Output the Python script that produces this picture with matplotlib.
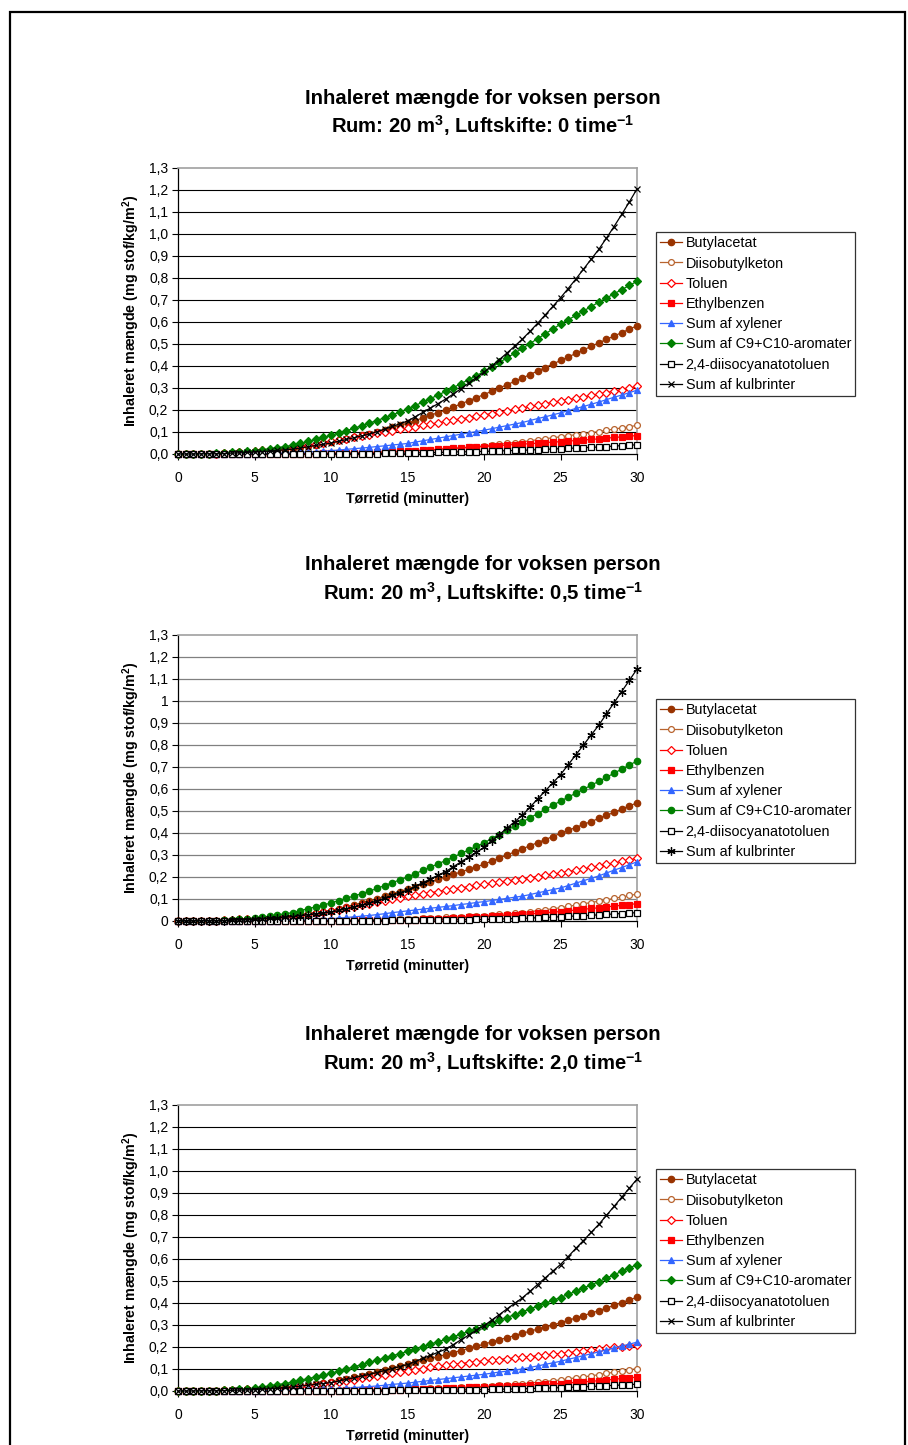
import matplotlib
matplotlib.use("Agg")
import matplotlib.pyplot as plt
from matplotlib.patches import Rectangle

plt.rcParams['font.family'] = ['Liberation Sans', 'DejaVu Sans']
plt.rcParams['mathtext.fontset'] = 'custom'
plt.rcParams['mathtext.rm'] = 'Liberation Sans'
plt.rcParams['mathtext.bf'] = 'Liberation Sans:bold'

# drying time in minutes, one sample every half minute
minutes = [i * 0.5 for i in range(61)]

series_names = ['Butylacetat', 'Diisobutylketon', 'Toluen', 'Ethylbenzen', 'Sum af xylener',
                'Sum af C9+C10-aromater', '2,4-diisocyanatotoluen', 'Sum af kulbrinter']

#-------------------------------------------------------------------------
# Air change 0 per hour
butylacetat_0 = [0, 0, 0.001, 0.001, 0.002, 0.002, 0.004, 0.005, 0.007, 0.008,
                 0.010, 0.013, 0.016, 0.020, 0.023, 0.026, 0.032, 0.038, 0.043, 0.049,
                 0.055, 0.062, 0.070, 0.077, 0.085, 0.092, 0.102, 0.111, 0.121, 0.130,
                 0.140, 0.152, 0.164, 0.176, 0.188, 0.200, 0.214, 0.228, 0.242, 0.256,
                 0.270, 0.285, 0.300, 0.315, 0.330, 0.345, 0.361, 0.377, 0.393, 0.409,
                 0.425, 0.441, 0.457, 0.473, 0.489, 0.505, 0.521, 0.536, 0.552, 0.567, 0.583]
diisobutylketon_0 = [0, 0, 0, 0, 0, 0, 0, 0, 0, 0,
                     0, 0, 0, 0.001, 0.001, 0.001, 0.001, 0.002, 0.002, 0.003,
                     0.003, 0.004, 0.005, 0.005, 0.006, 0.007, 0.008, 0.009, 0.011, 0.012,
                     0.013, 0.015, 0.017, 0.019, 0.021, 0.023, 0.026, 0.029, 0.031, 0.034,
                     0.037, 0.041, 0.045, 0.048, 0.052, 0.056, 0.060, 0.065, 0.069, 0.074,
                     0.078, 0.083, 0.088, 0.092, 0.097, 0.102, 0.108, 0.113, 0.119, 0.124, 0.130]
toluen_0 = [0, 0, 0.001, 0.001, 0.002, 0.002, 0.004, 0.006, 0.008, 0.010,
            0.012, 0.016, 0.019, 0.023, 0.026, 0.030, 0.035, 0.041, 0.046, 0.052,
            0.057, 0.063, 0.069, 0.076, 0.082, 0.088, 0.094, 0.100, 0.106, 0.112,
            0.118, 0.124, 0.130, 0.136, 0.142, 0.148, 0.154, 0.160, 0.165, 0.171,
            0.177, 0.184, 0.190, 0.197, 0.203, 0.210, 0.216, 0.222, 0.229, 0.235,
            0.241, 0.247, 0.253, 0.260, 0.266, 0.272, 0.279, 0.286, 0.293, 0.300, 0.307]
ethylbenzen_0 = [0, 0, 0, 0, 0, 0, 0, 0, 0, 0,
                 0, 0, 0, 0.001, 0.001, 0.001, 0.001, 0.002, 0.002, 0.003,
                 0.003, 0.004, 0.004, 0.005, 0.005, 0.006, 0.007, 0.009, 0.010, 0.012,
                 0.013, 0.015, 0.017, 0.019, 0.021, 0.023, 0.025, 0.027, 0.030, 0.032,
                 0.034, 0.036, 0.038, 0.041, 0.043, 0.045, 0.047, 0.049, 0.052, 0.054,
                 0.056, 0.059, 0.061, 0.064, 0.066, 0.069, 0.072, 0.075, 0.078, 0.081, 0.084]
xylener_0 = [0, 0, 0, 0, 0, 0, 0, 0, 0.001, 0.001,
             0.001, 0.002, 0.003, 0.003, 0.004, 0.005, 0.007, 0.009, 0.011, 0.013,
             0.015, 0.018, 0.021, 0.024, 0.027, 0.030, 0.034, 0.037, 0.041, 0.044,
             0.048, 0.054, 0.060, 0.066, 0.072, 0.078, 0.084, 0.090, 0.096, 0.102,
             0.108, 0.115, 0.122, 0.129, 0.136, 0.143, 0.152, 0.161, 0.169, 0.178,
             0.187, 0.197, 0.207, 0.216, 0.226, 0.236, 0.247, 0.258, 0.268, 0.279, 0.290]
c9c10_0 = [0, 0, 0.001, 0.001, 0.002, 0.003, 0.005, 0.007, 0.010, 0.012,
           0.015, 0.019, 0.024, 0.029, 0.034, 0.040, 0.048, 0.057, 0.066, 0.075,
           0.085, 0.095, 0.106, 0.117, 0.128, 0.140, 0.152, 0.165, 0.178, 0.191,
           0.205, 0.220, 0.236, 0.252, 0.268, 0.285, 0.302, 0.320, 0.338, 0.356,
           0.375, 0.395, 0.416, 0.437, 0.458, 0.480, 0.502, 0.524, 0.546, 0.568,
           0.590, 0.610, 0.630, 0.650, 0.670, 0.690, 0.709, 0.728, 0.747, 0.766, 0.785]
tdi_0 = [0, 0, 0, 0, 0, 0, 0, 0, 0, 0,
         0, 0, 0, 0, 0, 0, 0, 0, 0.001, 0.001,
         0.001, 0.001, 0.001, 0.002, 0.002, 0.002, 0.002, 0.003, 0.003, 0.004,
         0.004, 0.005, 0.006, 0.006, 0.007, 0.008, 0.009, 0.010, 0.010, 0.011,
         0.012, 0.013, 0.014, 0.015, 0.016, 0.017, 0.018, 0.020, 0.021, 0.023,
         0.024, 0.026, 0.027, 0.029, 0.030, 0.032, 0.034, 0.036, 0.038, 0.040, 0.042]
kulbrinter_0 = [0, 0, 0, 0.001, 0.001, 0.001, 0.002, 0.004, 0.005, 0.007,
                0.009, 0.011, 0.014, 0.016, 0.019, 0.022, 0.027, 0.033, 0.039, 0.044,
                0.050, 0.058, 0.066, 0.074, 0.082, 0.090, 0.101, 0.113, 0.125, 0.137,
                0.150, 0.169, 0.189, 0.209, 0.229, 0.250, 0.273, 0.297, 0.322, 0.347,
                0.372, 0.400, 0.429, 0.459, 0.490, 0.522, 0.557, 0.594, 0.632, 0.671,
                0.710, 0.752, 0.795, 0.840, 0.885, 0.930, 0.981, 1.034, 1.089, 1.146, 1.205]

#-------------------------------------------------------------------------
# Air change 0,5 per hour
butylacetat_05 = [0, 0, 0.001, 0.001, 0.002, 0.002, 0.003, 0.005, 0.006, 0.008,
                  0.009, 0.012, 0.014, 0.017, 0.019, 0.022, 0.027, 0.032, 0.037, 0.042,
                  0.047, 0.056, 0.064, 0.073, 0.081, 0.090, 0.101, 0.112, 0.123, 0.134,
                  0.145, 0.156, 0.167, 0.178, 0.189, 0.200, 0.212, 0.223, 0.235, 0.246,
                  0.258, 0.272, 0.286, 0.300, 0.314, 0.328, 0.342, 0.356, 0.370, 0.384,
                  0.398, 0.412, 0.425, 0.439, 0.452, 0.466, 0.480, 0.494, 0.509, 0.523, 0.537]
diisobutylketon_05 = [0, 0, 0, 0, 0, 0, 0, 0, 0, 0,
                      0, 0, 0, 0.001, 0.001, 0.001, 0.001, 0.002, 0.002, 0.003,
                      0.003, 0.004, 0.004, 0.005, 0.005, 0.006, 0.007, 0.008, 0.008, 0.009,
                      0.010, 0.011, 0.012, 0.014, 0.015, 0.016, 0.018, 0.019, 0.021, 0.022,
                      0.024, 0.027, 0.030, 0.032, 0.035, 0.038, 0.042, 0.047, 0.051, 0.056,
                      0.060, 0.066, 0.072, 0.078, 0.084, 0.090, 0.096, 0.103, 0.109, 0.116, 0.122]
toluen_05 = [0, 0, 0.001, 0.001, 0.002, 0.002, 0.004, 0.005, 0.007, 0.008,
             0.010, 0.013, 0.016, 0.018, 0.021, 0.024, 0.028, 0.032, 0.037, 0.041,
             0.045, 0.052, 0.058, 0.065, 0.071, 0.078, 0.085, 0.092, 0.098, 0.105,
             0.112, 0.118, 0.123, 0.129, 0.134, 0.140, 0.145, 0.151, 0.156, 0.162,
             0.167, 0.172, 0.177, 0.182, 0.187, 0.192, 0.197, 0.202, 0.208, 0.213,
             0.218, 0.224, 0.231, 0.237, 0.244, 0.250, 0.257, 0.264, 0.271, 0.278, 0.285]
ethylbenzen_05 = [0, 0, 0, 0, 0, 0, 0, 0, 0, 0,
                  0, 0, 0, 0.001, 0.001, 0.001, 0.001, 0.001, 0.002, 0.002,
                  0.002, 0.002, 0.002, 0.003, 0.003, 0.003, 0.003, 0.004, 0.004, 0.005,
                  0.005, 0.006, 0.007, 0.009, 0.010, 0.011, 0.013, 0.015, 0.016, 0.018,
                  0.020, 0.022, 0.024, 0.026, 0.028, 0.030, 0.033, 0.035, 0.038, 0.040,
                  0.043, 0.046, 0.050, 0.053, 0.057, 0.060, 0.064, 0.068, 0.071, 0.075, 0.079]
xylener_05 = [0, 0, 0, 0, 0, 0, 0, 0, 0.001, 0.001,
              0.001, 0.001, 0.002, 0.002, 0.003, 0.003, 0.004, 0.006, 0.007, 0.009,
              0.010, 0.013, 0.016, 0.019, 0.022, 0.025, 0.029, 0.033, 0.038, 0.042,
              0.046, 0.050, 0.054, 0.058, 0.062, 0.066, 0.070, 0.075, 0.079, 0.084,
              0.088, 0.093, 0.098, 0.103, 0.108, 0.113, 0.120, 0.128, 0.135, 0.143,
              0.150, 0.161, 0.172, 0.183, 0.194, 0.205, 0.218, 0.231, 0.243, 0.256, 0.269]
c9c10_05 = [0, 0, 0.001, 0.001, 0.002, 0.002, 0.004, 0.006, 0.008, 0.010,
            0.012, 0.017, 0.022, 0.028, 0.033, 0.038, 0.047, 0.056, 0.064, 0.073,
            0.082, 0.093, 0.103, 0.114, 0.124, 0.135, 0.148, 0.161, 0.174, 0.187,
            0.200, 0.215, 0.230, 0.245, 0.260, 0.275, 0.291, 0.307, 0.323, 0.339,
            0.355, 0.374, 0.393, 0.412, 0.431, 0.450, 0.469, 0.488, 0.507, 0.526,
            0.545, 0.563, 0.581, 0.599, 0.617, 0.635, 0.653, 0.672, 0.690, 0.709, 0.727]
tdi_05 = [0, 0, 0, 0, 0, 0, 0, 0, 0, 0,
          0, 0, 0, 0, 0, 0, 0, 0, 0.001, 0.001,
          0.001, 0.001, 0.001, 0.002, 0.002, 0.002, 0.002, 0.002, 0.003, 0.003,
          0.003, 0.003, 0.004, 0.004, 0.005, 0.005, 0.005, 0.006, 0.006, 0.007,
          0.007, 0.008, 0.009, 0.010, 0.011, 0.012, 0.013, 0.015, 0.016, 0.018,
          0.019, 0.021, 0.023, 0.024, 0.026, 0.028, 0.030, 0.032, 0.034, 0.036, 0.038]
kulbrinter_05 = [0, 0, 0, 0.001, 0.001, 0.001, 0.002, 0.003, 0.005, 0.006,
                 0.007, 0.010, 0.012, 0.015, 0.017, 0.020, 0.024, 0.028, 0.032, 0.036,
                 0.040, 0.048, 0.056, 0.064, 0.072, 0.080, 0.092, 0.104, 0.116, 0.128,
                 0.140, 0.157, 0.174, 0.191, 0.208, 0.225, 0.247, 0.269, 0.291, 0.313,
                 0.335, 0.364, 0.393, 0.422, 0.451, 0.480, 0.517, 0.554, 0.591, 0.628,
                 0.665, 0.710, 0.755, 0.800, 0.845, 0.890, 0.941, 0.992, 1.043, 1.094, 1.145]

#-------------------------------------------------------------------------
# Air change 2,0 per hour
butylacetat_2 = [0, 0, 0.001, 0.001, 0.002, 0.002, 0.003, 0.004, 0.006, 0.007,
                 0.008, 0.010, 0.013, 0.015, 0.018, 0.020, 0.024, 0.028, 0.032, 0.036,
                 0.040, 0.048, 0.055, 0.063, 0.070, 0.078, 0.087, 0.096, 0.104, 0.113,
                 0.122, 0.131, 0.139, 0.148, 0.156, 0.165, 0.175, 0.184, 0.194, 0.203,
                 0.213, 0.223, 0.233, 0.242, 0.252, 0.262, 0.272, 0.281, 0.291, 0.300,
                 0.310, 0.321, 0.332, 0.343, 0.354, 0.365, 0.377, 0.389, 0.402, 0.414, 0.426]
diisobutylketon_2 = [0, 0, 0, 0, 0, 0, 0, 0, 0, 0,
                     0, 0, 0, 0.001, 0.001, 0.001, 0.001, 0.002, 0.002, 0.003,
                     0.003, 0.003, 0.004, 0.004, 0.005, 0.005, 0.006, 0.007, 0.007, 0.008,
                     0.009, 0.010, 0.011, 0.012, 0.013, 0.014, 0.015, 0.017, 0.018, 0.020,
                     0.021, 0.023, 0.026, 0.028, 0.031, 0.033, 0.036, 0.040, 0.043, 0.047,
                     0.050, 0.055, 0.060, 0.064, 0.069, 0.074, 0.080, 0.085, 0.091, 0.096, 0.102]
toluen_2 = [0, 0, 0.001, 0.001, 0.002, 0.002, 0.003, 0.004, 0.006, 0.007,
            0.008, 0.010, 0.012, 0.014, 0.016, 0.018, 0.021, 0.025, 0.028, 0.032,
            0.035, 0.040, 0.046, 0.051, 0.057, 0.062, 0.068, 0.074, 0.080, 0.086,
            0.092, 0.097, 0.102, 0.107, 0.112, 0.117, 0.121, 0.125, 0.129, 0.133,
            0.137, 0.140, 0.143, 0.147, 0.150, 0.153, 0.156, 0.160, 0.163, 0.167,
            0.170, 0.174, 0.178, 0.182, 0.186, 0.190, 0.194, 0.198, 0.202, 0.206, 0.210]
ethylbenzen_2 = [0, 0, 0, 0, 0, 0, 0, 0, 0, 0,
                 0, 0, 0, 0.001, 0.001, 0.001, 0.001, 0.001, 0.002, 0.002,
                 0.002, 0.002, 0.003, 0.003, 0.004, 0.004, 0.005, 0.005, 0.006, 0.006,
                 0.007, 0.008, 0.009, 0.010, 0.011, 0.012, 0.013, 0.014, 0.016, 0.017,
                 0.018, 0.019, 0.021, 0.022, 0.024, 0.025, 0.027, 0.029, 0.030, 0.032,
                 0.034, 0.037, 0.039, 0.042, 0.044, 0.047, 0.050, 0.053, 0.057, 0.060, 0.063]
xylener_2 = [0, 0, 0, 0, 0, 0, 0, 0, 0.001, 0.001,
             0.001, 0.001, 0.002, 0.002, 0.003, 0.003, 0.004, 0.005, 0.006, 0.007,
             0.008, 0.010, 0.013, 0.015, 0.018, 0.020, 0.023, 0.026, 0.030, 0.033,
             0.036, 0.040, 0.044, 0.048, 0.052, 0.056, 0.060, 0.064, 0.068, 0.072,
             0.076, 0.081, 0.086, 0.090, 0.095, 0.100, 0.107, 0.114, 0.121, 0.128,
             0.135, 0.144, 0.152, 0.161, 0.169, 0.178, 0.187, 0.196, 0.204, 0.213, 0.222]
c9c10_2 = [0, 0, 0.001, 0.001, 0.002, 0.002, 0.004, 0.006, 0.008, 0.010,
           0.012, 0.018, 0.023, 0.029, 0.034, 0.040, 0.048, 0.056, 0.064, 0.072,
           0.080, 0.090, 0.100, 0.110, 0.120, 0.130, 0.140, 0.150, 0.160, 0.170,
           0.180, 0.191, 0.202, 0.213, 0.224, 0.235, 0.247, 0.259, 0.271, 0.283,
           0.295, 0.308, 0.321, 0.334, 0.347, 0.360, 0.373, 0.386, 0.399, 0.412,
           0.425, 0.439, 0.454, 0.468, 0.483, 0.497, 0.513, 0.528, 0.544, 0.559, 0.575]
tdi_2 = [0, 0, 0, 0, 0, 0, 0, 0, 0, 0,
         0, 0, 0, 0, 0, 0, 0, 0, 0.001, 0.001,
         0.001, 0.001, 0.001, 0.002, 0.002, 0.002, 0.002, 0.002, 0.003, 0.003,
         0.003, 0.003, 0.003, 0.004, 0.004, 0.004, 0.004, 0.005, 0.005, 0.006,
         0.006, 0.007, 0.008, 0.009, 0.009, 0.010, 0.011, 0.012, 0.013, 0.014,
         0.015, 0.016, 0.018, 0.019, 0.021, 0.022, 0.024, 0.026, 0.027, 0.029, 0.031]
kulbrinter_2 = [0, 0, 0, 0.001, 0.001, 0.001, 0.002, 0.003, 0.004, 0.005,
                0.006, 0.008, 0.011, 0.013, 0.016, 0.018, 0.022, 0.026, 0.030, 0.034,
                0.038, 0.045, 0.053, 0.060, 0.068, 0.075, 0.084, 0.093, 0.102, 0.111,
                0.120, 0.134, 0.148, 0.162, 0.176, 0.190, 0.211, 0.233, 0.254, 0.276,
                0.297, 0.322, 0.347, 0.373, 0.398, 0.423, 0.453, 0.484, 0.514, 0.545,
                0.575, 0.611, 0.648, 0.684, 0.721, 0.757, 0.798, 0.839, 0.881, 0.922, 0.963]

#-------------------------------------------------------------------------
# tick labels (the middle chart was formatted without the trailing ",0")
yticks = [i / 10 for i in range(14)]
ylabels_decimal = ['0,0', '0,1', '0,2', '0,3', '0,4', '0,5', '0,6', '0,7', '0,8', '0,9',
                   '1,0', '1,1', '1,2', '1,3']
ylabels_general = ['0', '0,1', '0,2', '0,3', '0,4', '0,5', '0,6', '0,7', '0,8', '0,9',
                   '1', '1,1', '1,2', '1,3']
xticks = [0, 5, 10, 15, 20, 25, 30]

charts = [
    {'rate': '0', 'top': 168, 'ylabels': ylabels_decimal, 'grid': 'black', 'alt': False,
     'data': [butylacetat_0, diisobutylketon_0, toluen_0, ethylbenzen_0, xylener_0,
              c9c10_0, tdi_0, kulbrinter_0]},
    {'rate': '0,5', 'top': 635, 'ylabels': ylabels_general, 'grid': '#808080', 'alt': True,
     'data': [butylacetat_05, diisobutylketon_05, toluen_05, ethylbenzen_05, xylener_05,
              c9c10_05, tdi_05, kulbrinter_05]},
    {'rate': '2,0', 'top': 1105, 'ylabels': ylabels_decimal, 'grid': 'black', 'alt': False,
     'data': [butylacetat_2, diisobutylketon_2, toluen_2, ethylbenzen_2, xylener_2,
              c9c10_2, tdi_2, kulbrinter_2]},
]

# line/marker style per series: colour, marker, filled, size
styles = [('#993300', 'o', True, 4.6),
          ('#B8642F', 'o', False, 4.2),
          ('#FF0000', 'D', False, 3.6),
          ('#FF0000', 's', True, 4.2),
          ('#3366FF', '^', True, 5.0),
          ('#008000', 'D', True, 3.8),
          ('#000000', 's', False, 4.2),
          ('#000000', 'x', True, 5.0)]

W, H = 908, 1445
fig = plt.figure(figsize=(W / 100, H / 100), dpi=100)
fig.patch.set_facecolor('white')

# page frame
fig.patches.append(Rectangle((10 / W, -0.02), (905 - 10) / W, 1 - 12 / H + 0.02,
                             transform=fig.transFigure, fill=False, edgecolor='black',
                             linewidth=1.6))

for chart in charts:
    top = chart['top']
    ax = fig.add_axes([178 / W, 1 - (top + 286) / H, (637 - 178) / W, 286 / H])

    for i, name in enumerate(series_names):
        color, marker, filled, ms = styles[i]
        if chart['alt'] and i == 5:
            marker, ms = 'o', 4.6
        if chart['alt'] and i == 7:
            marker, ms = (6, 2, 0), 6.0
        ax.plot(minutes, chart['data'][i], color=color, linewidth=0.9, marker=marker,
                markersize=ms, markerfacecolor=color if filled else 'white',
                markeredgecolor=color, markeredgewidth=0.9, label=name, clip_on=False,
                zorder=3 + i)

    ax.set_xlim(0, 30)
    ax.set_ylim(0, 1.3)
    ax.set_xticks(xticks)
    ax.set_xticklabels([str(x) for x in xticks], fontsize=10)
    ax.set_yticks(yticks)
    ax.set_yticklabels(chart['ylabels'], fontsize=10)
    ax.tick_params(axis='both', direction='out', length=4, width=0.8, color='black', pad=3)
    ax.tick_params(axis='x', pad=8)
    for y in yticks[1:-1]:
        ax.axhline(y, color=chart['grid'], linewidth=0.9 if chart['alt'] else 0.8, zorder=1)
    ax.spines['left'].set_color('black')
    ax.spines['bottom'].set_color('black')
    ax.spines['left'].set_linewidth(0.9)
    ax.spines['bottom'].set_linewidth(0.9)
    ax.spines['top'].set_color('#A0A0A0')
    ax.spines['right'].set_color('#A0A0A0')
    ax.spines['top'].set_linewidth(1.2)
    ax.spines['right'].set_linewidth(1.2)

    ax.set_xlabel('Tørretid (minutter)', fontsize=10.2, fontweight='bold', labelpad=5)
    ax.set_ylabel('Inhaleret mængde (mg stof/kg/m$^{\\mathbf{2}}$)', fontsize=10.3,
                  fontweight='bold', labelpad=5)

    fig.text(483 / W, 1 - (top - 70) / H, 'Inhaleret mængde for voksen person',
             ha='center', va='center', fontsize=14.6, fontweight='bold')
    fig.text(483 / W, 1 - (top - 42) / H,
             'Rum: 20 m$^{\\mathbf{3}}$, Luftskifte: ' + chart['rate'] + ' time$^{\\mathbf{-1}}$',
             ha='center', va='center', fontsize=14.6, fontweight='bold')

    leg = ax.legend(loc='upper left', bbox_to_anchor=(656 / W, 1 - (top + 64) / H),
                    bbox_transform=fig.transFigure, fontsize=10.4, frameon=True,
                    fancybox=False, edgecolor='black', handlelength=1.5,
                    handletextpad=0.25, labelspacing=0.43, borderpad=0.3,
                    borderaxespad=0)
    leg.get_frame().set_linewidth(0.9)

fig.savefig('out.png', dpi=100, facecolor='white')
